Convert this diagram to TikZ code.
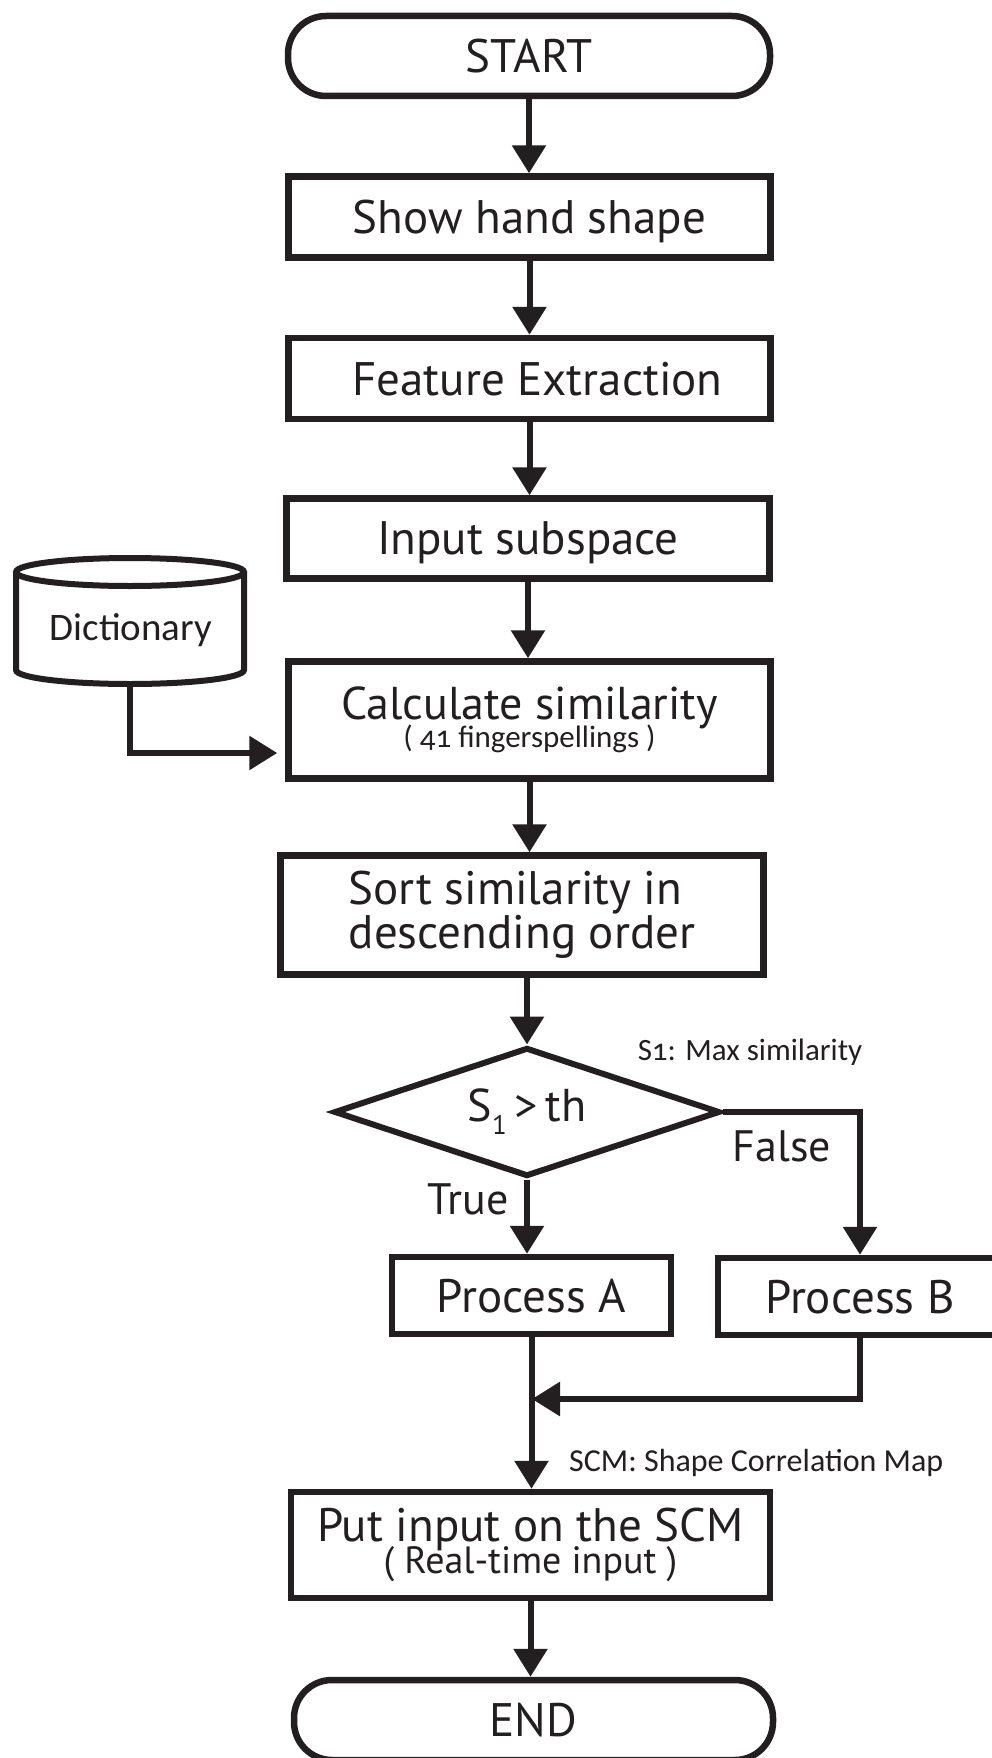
\documentclass[tikz,border=0pt]{standalone}
\usepackage{fontspec}
\setmainfont{PT Sans}
\newfontfamily\labelfont[Numbers=OldStyle]{Carlito}
\usetikzlibrary{arrows.meta,shapes.geometric}
\definecolor{ink}{RGB}{35,31,32}
\begin{document}
\begin{tikzpicture}[x=1pt,y=-1pt,
  every node/.style={text=ink},
  box/.style={draw=ink,line width=6.5pt,rectangle,inner sep=0pt,align=center,
    font=\fontsize{47pt}{39pt}\selectfont},
  onebox/.style={box,text depth=0pt},
  term/.style={onebox,rounded corners=38pt},
  decision/.style={draw=ink,line width=6pt,diamond,inner sep=0pt,aspect=2.9,
    font=\fontsize{46pt}{38pt}\selectfont},
  arr/.style={draw=ink,line width=6pt,-{Triangle[length=28pt,width=33pt]}},
  lbl/.style={font=\labelfont\fontsize{31pt}{31pt}\selectfont,inner sep=0pt},
  tflbl/.style={font=\fontsize{44pt}{44pt}\selectfont,inner sep=0pt}]
\clip (0,0) rectangle (992,1758);
\fill[white] (0,0) rectangle (992,1758);

% main column
\node[term,minimum width=482pt,minimum height=80pt] (start) at (529,56) {START};
\node[onebox,minimum width=482pt,minimum height=81pt] (show) at (529.5,217) {Show hand shape};
\node[onebox,minimum width=482pt,minimum height=81pt] (feat) at (529.5,378.5) {\hspace*{16pt}Feature Extraction};
\node[onebox,minimum width=483pt,minimum height=80pt] (inp) at (528,538.5) {Input subspace};
\node[box,minimum width=482pt,minimum height=117pt,font=\fontsize{46pt}{39pt}\selectfont] (calc) at (529.5,720)
  {Calculate similarity\\[-11pt]{\labelfont\fontsize{31pt}{31pt}\selectfont ( 41 fingerspellings )}};
\node[box,align=left,minimum width=483pt,minimum height=119pt] (sort) at (522,915)
  {\raisebox{-3pt}{Sort similarity in}\\descending order};
\node[decision,minimum width=386pt,minimum height=129pt] (dec) at (527,1112)
  {S\raisebox{-0.28em}{\fontsize{27pt}{27pt}\selectfont 1}\,>\,th};
\node[onebox,minimum width=279pt,minimum height=77pt] (pa) at (531.5,1295.5) {Process A};
\node[onebox,minimum width=284pt,minimum height=77pt] (pb) at (860,1296.5) {Process B};
\node[box,minimum width=479pt,minimum height=106pt] (put) at (530.5,1545)
  {Put input on the SCM\\[-7pt]{\fontsize{38pt}{38pt}\selectfont ( Real-time input )}};
\node[term,minimum width=479pt,minimum height=80pt] (end) at (533.5,1720) {END};

% dictionary store
\node[inner sep=0pt,outer sep=0pt,minimum width=228pt,minimum height=126pt] (dict) at (130,621) {};
\draw[ink,line width=6pt] (16,572) -- (16,670) arc[start angle=180,end angle=360,x radius=114pt,y radius=14pt]
  -- (244,572);
\draw[ink,line width=6pt] (130,572) ellipse[x radius=114pt,y radius=14pt];
\node[font=\labelfont\fontsize{39pt}{39pt}\selectfont,inner sep=0pt] (dictxt) at (131,630) {Dictionary};

% side labels
\node[lbl] (s1note) at (750,1052) {S1: Max similarity};
\node[lbl,anchor=west,font=\labelfont\fontsize{32pt}{32pt}\selectfont] (scmnote) at (569,1463) {SCM: Shape Correlation Map};
\node[tflbl] (truelbl) at (468,1199) {True};
\node[tflbl] (falselbl) at (782,1146) {False};

% connectors
\coordinate (dictrow) at (0,753);
\coordinate (merge) at (532,1399);
\draw[arr] (start.south) -- (start.south |- show.north);
\draw[arr] (show.south) -- (show.south |- feat.north);
\draw[arr] (feat.south) -- (feat.south |- inp.north);
\draw[arr] (inp.south) -- (inp.south |- calc.north);
\draw[arr] (calc.south) -- (calc.south |- sort.north);
\draw[arr] (dec.north |- sort.south) -- (dec.north);
\draw[arr,shorten >=8pt] (dict.south) |- (calc.west |- dictrow);
\draw[arr] (dec.south) -- (dec.south |- pa.north);
\draw[arr] (dec.east) -| (pb.north);
\draw[arr] (pb.south) |- (merge);
\draw[arr] (pa.south) -- (pa.south |- put.north);
\draw[arr] (put.south) -- (put.south |- end.north);
\end{tikzpicture}
\end{document}
